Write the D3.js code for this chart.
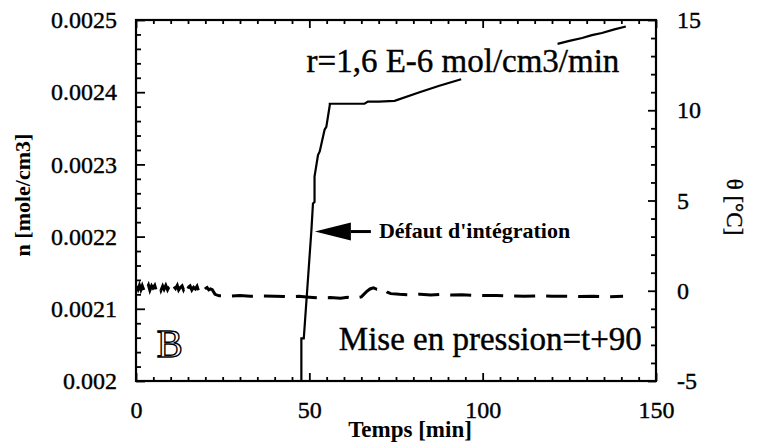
<!DOCTYPE html>
<html>
<head>
<meta charset="utf-8">
<script src="https://cdn.jsdelivr.net/npm/d3@7"></script>
<style>
  html, body { margin: 0; padding: 0; background: #fff; }
  svg { display: block; }
  text { font-family: "Liberation Serif", "Times New Roman", serif; fill: #000; }
  .reg { stroke: #000; stroke-width: 0.4px; }
  .bold { font-weight: bold; }
</style>
</head>
<body>
<svg id="chart" width="768" height="448"></svg>
<script>
// Molar quantity n (left axis, mole/cm3) against time [min]; null marks the break behind the label
const nTime  = [47.7, 47.7, 48.4, 50.6, 51.05, 51.5, 51.5, 52.5, 53.0, 54.4, 54.9, 55.9, 55.9, 65.9, 66.9, 70.0, 74.6, 81.8, 87.5, 93.8, 100.0, 121.6, 125.0, 128.7, 131.5, 134.4, 138.0, 141.3];
const nValue = [0.00200, 0.002059, 0.002059, 0.002209, 0.002246, 0.002248, 0.002283, 0.002313, 0.002318, 0.002348, 0.002352, 0.002382, 0.002384, 0.002384, 0.002387, 0.002387, 0.002388, 0.002400, 0.002409, 0.002418, null, 0.002467, 0.002471, 0.002475, 0.002479, 0.002482, 0.002487, 0.002491];

// Temperature θ (right axis, °C) against time [min]
const thetaTime = [0.2, 0.6, 1.0, 1.4, 1.8, 2.3, 2.7, 3.1, 3.6, 4.0, 4.5, 4.9, 5.4, 5.8, 6.3, 6.8, 7.2, 7.7, 8.1, 8.6, 9.1, 9.5, 10.0, 10.5, 10.9, 11.4, 11.9, 12.3, 12.8, 13.3, 13.7, 14.2, 14.7, 15.2, 15.6, 16.1, 16.6, 17.1, 17.6, 18.0, 18.5, 19.0, 19.5, 20.0, 20.5, 21.0, 21.5, 22.0,
  22.8, 24, 27, 30, 33, 36, 40, 44, 47, 50, 53, 56, 59, 61, 63, 65, 66.5, 67.5, 68.5, 69.5, 70.5, 71.5, 72.5, 73.5, 76, 79, 82, 85, 88, 91, 94, 97, 100, 104, 108, 112, 116, 120, 124, 128, 132, 136, 140.5];
const thetaValue = [0.26, 0.08, 0.30, 0.06, 0.28, 0.02, 0.25, 0.10, 0.31, 0.03, 0.27, 0.15, 0.30, 0.04, 0.22, 0.29, 0.03, 0.26, 0.08, 0.30, 0.05, 0.20, 0.27, 0.02, 0.24, 0.12, 0.30, 0.04, 0.18, 0.27, 0.06, 0.28, 0.02, 0.21, 0.27, 0.04, 0.19, 0.10, 0.25, 0.02, 0.16, 0.22, 0.03, 0.12, 0.18, 0.05, 0.10, 0.06,
  -0.20, -0.28, -0.30, -0.27, -0.31, -0.29, -0.30, -0.33, -0.31, -0.36, -0.40, -0.38, -0.41, -0.36, -0.42, -0.34, -0.05, 0.10, 0.16, 0.08, 0.12, 0.10, -0.08, -0.16, -0.20, -0.22, -0.19, -0.23, -0.21, -0.24, -0.22, -0.25, -0.27, -0.26, -0.29, -0.30, -0.28, -0.31, -0.30, -0.32, -0.30, -0.33, -0.31];

// Axis ticks and labels
const xTicks = [0, 50, 100, 150];
const xTickLabels = ["0", "50", "100", "150"];
const nTicks = [0.0020, 0.0021, 0.0022, 0.0023, 0.0024, 0.0025];
const nTickLabels = ["0.002", "0.0021", "0.0022", "0.0023", "0.0024", "0.0025"];
const thetaTicks = [-5, 0, 5, 10, 15];
const thetaTickLabels = ["-5", "0", "5", "10", "15"];

// Annotation texts
const rateText = "r=1,6 E-6 mol/cm3/min";
const defectText = "Défaut d'intégration";
const pressureText = "Mise en pression=t+90";
const panelLetter = "B";

const svg = d3.select("#chart");
const plotLeft = 136, plotRight = 656, plotTop = 20, plotBottom = 381;

const x = d3.scaleLinear().domain([0, 150]).range([plotLeft, plotRight]);
const yN = d3.scaleLinear().domain([0.0020, 0.0025]).range([plotBottom, plotTop]);
const yT = d3.scaleLinear().domain([-5, 15]).range([plotBottom, plotTop]);

// minor tick positions
const xMinor = d3.range(5, 150, 5).filter(v => v % 50 !== 0);
const nMinor = d3.range(1, 25).filter(i => i % 5 !== 0).map(i => 0.0020 + i * 0.00002);
const tMinor = d3.range(-4, 15).filter(v => v % 5 !== 0);

function styleAxis(g) {
  g.attr("font-family", null).attr("font-size", null);
  g.select(".domain").remove();
  g.selectAll(".tick line").attr("stroke", "#000").attr("stroke-width", 1.8);
  g.selectAll(".tick text").attr("class", "reg").attr("font-size", 24).attr("fill", "#000");
}

// bottom axis with labels
svg.append("g").attr("transform", `translate(0,${plotBottom})`)
  .call(d3.axisBottom(x).tickValues(xTicks).tickFormat((d, i) => xTickLabels[i]).tickSize(-8).tickPadding(20))
  .call(styleAxis);
svg.append("g").attr("transform", `translate(0,${plotBottom})`)
  .call(d3.axisBottom(x).tickValues(xMinor).tickFormat("").tickSize(-4))
  .call(styleAxis);
// top axis, ticks only
svg.append("g").attr("transform", `translate(0,${plotTop})`)
  .call(d3.axisTop(x).tickValues(xTicks).tickFormat("").tickSize(-8))
  .call(styleAxis);
svg.append("g").attr("transform", `translate(0,${plotTop})`)
  .call(d3.axisTop(x).tickValues(xMinor).tickFormat("").tickSize(-4))
  .call(styleAxis);
// left axis (n)
svg.append("g").attr("transform", `translate(${plotLeft},0)`)
  .call(d3.axisLeft(yN).tickValues(nTicks).tickFormat((d, i) => nTickLabels[i]).tickSize(-9).tickPadding(19))
  .call(styleAxis);
svg.append("g").attr("transform", `translate(${plotLeft},0)`)
  .call(d3.axisLeft(yN).tickValues(nMinor).tickFormat("").tickSize(-5))
  .call(styleAxis);
// right axis (θ)
svg.append("g").attr("transform", `translate(${plotRight},0)`)
  .call(d3.axisRight(yT).tickValues(thetaTicks).tickFormat((d, i) => thetaTickLabels[i]).tickSize(-8).tickPadding(21))
  .call(styleAxis);
svg.append("g").attr("transform", `translate(${plotRight},0)`)
  .call(d3.axisRight(yT).tickValues(tMinor).tickFormat("").tickSize(-5))
  .call(styleAxis);

// frame
svg.append("rect")
  .attr("x", plotLeft).attr("y", plotTop)
  .attr("width", plotRight - plotLeft).attr("height", plotBottom - plotTop)
  .attr("fill", "none").attr("stroke", "#000").attr("stroke-width", 2.2);

// temperature trace (dashed)
const thetaData = thetaTime.map((t, i) => [t, thetaValue[i]]);
svg.append("path")
  .datum(thetaData)
  .attr("fill", "none")
  .attr("stroke", "#000")
  .attr("stroke-width", 3)
  .attr("stroke-dasharray", "21,11")
  .attr("d", d3.line().x(d => x(d[0])).y(d => yT(d[1])));

// n trace (solid)
const nData = nTime.map((t, i) => [t, nValue[i]]);
svg.append("path")
  .datum(nData)
  .attr("fill", "none")
  .attr("stroke", "#000")
  .attr("stroke-width", 2.2)
  .attr("stroke-linejoin", "miter")
  .attr("d", d3.line().defined(d => d[1] !== null).x(d => x(d[0])).y(d => yN(d[1])));

// annotations
svg.append("text").attr("class", "reg")
  .attr("x", x(49.2)).attr("y", yN(0.002428))
  .attr("font-size", 33)
  .text(rateText);

svg.append("text").attr("class", "reg")
  .attr("x", x(58.5)).attr("y", yN(0.002043))
  .attr("font-size", 33)
  .text(pressureText);

svg.append("text")
  .attr("x", x(6.0)).attr("y", yN(0.002033))
  .attr("font-size", 39)
  .attr("stroke", "#000")
  .attr("stroke-width", 1.4)
  .style("fill", "#fff")
  .text(panelLetter);

// arrow pointing at the integration defect
const tipX = x(51.6), tipY = yN(0.002207);
const headBase = tipX + 36, shaftEnd = tipX + 56;
svg.append("path")
  .attr("d", `M${tipX},${tipY} L${headBase},${tipY - 9} L${headBase},${tipY + 9} Z`)
  .attr("fill", "#000");
svg.append("line")
  .attr("x1", headBase).attr("y1", tipY)
  .attr("x2", shaftEnd).attr("y2", tipY)
  .attr("stroke", "#000").attr("stroke-width", 3);
svg.append("text").attr("class", "bold")
  .attr("x", shaftEnd + 8).attr("y", tipY + 6)
  .attr("font-size", 22)
  .text(defectText);

// axis titles
svg.append("text").attr("class", "bold")
  .attr("transform", "translate(30,195) rotate(-90)")
  .attr("text-anchor", "middle")
  .attr("font-size", 22)
  .text("n [mole/cm3]");

svg.append("text").attr("class", "reg")
  .attr("transform", "translate(727,207) rotate(90)")
  .attr("text-anchor", "middle")
  .attr("font-size", 23)
  .text("θ [°C]");

svg.append("text").attr("class", "bold")
  .attr("x", 410).attr("y", 437)
  .attr("text-anchor", "middle")
  .attr("font-size", 23)
  .text("Temps [min]");
</script>
</body>
</html>
